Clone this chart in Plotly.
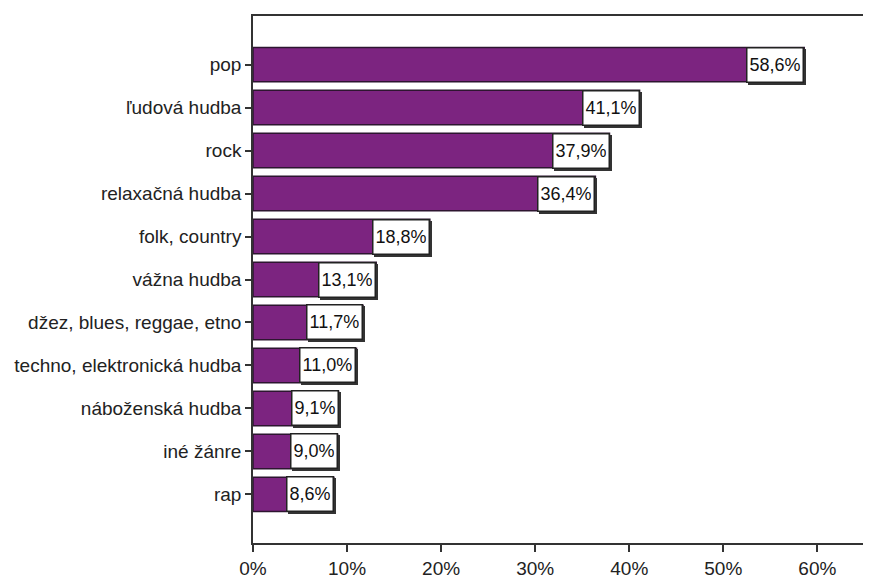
import plotly.graph_objects as go

categories = ["pop", "ľudová hudba", "rock", "relaxačná hudba", "folk, country",
              "vážna hudba", "džez, blues, reggae, etno", "techno, elektronická hudba",
              "náboženská hudba", "iné žánre", "rap"]
values = [58.6, 41.1, 37.9, 36.4, 18.8, 13.1, 11.7, 11.0, 9.1, 9.0, 8.6]
labels = ["58,6%", "41,1%", "37,9%", "36,4%", "18,8%", "13,1%", "11,7%",
          "11,0%", "9,1%", "9,0%", "8,6%"]
x_ticks = [0, 10, 20, 30, 40, 50, 60]
x_ticktext = ["0%", "10%", "20%", "30%", "40%", "50%", "60%"]

FONT = "Liberation Sans, Arial, sans-serif"

fig = go.Figure()
fig.add_trace(go.Bar(
    x=values, y=categories, orientation="h",
    marker=dict(color="#7c2480", line=dict(color="#2d1530", width=1.5)),
    width=0.8,
    hoverinfo="skip",
))

annotations = []
for cat, v, lab in zip(categories, values, labels):
    # shadow
    annotations.append(dict(
        x=v, y=cat, xref="x", yref="y", text=lab, showarrow=False,
        xanchor="right", yanchor="middle", xshift=2, yshift=-2,
        font=dict(family=FONT, size=18, color="#333333"),
        bgcolor="#333333", bordercolor="#333333", borderwidth=1.5,
        borderpad=2, height=29,
    ))
    annotations.append(dict(
        x=v, y=cat, xref="x", yref="y", text=lab, showarrow=False,
        xanchor="right", yanchor="middle",
        font=dict(family=FONT, size=18, color="#111111"),
        bgcolor="white", bordercolor="#222222", borderwidth=1.5,
        borderpad=2, height=29,
    ))

# page body has an 8px margin, so the figure is 8px smaller than the window
fig.update_layout(
    width=863, height=571,
    margin=dict(l=245, r=0, t=8, b=36),
    paper_bgcolor="white", plot_bgcolor="white",
    showlegend=False,
    annotations=annotations,
    font=dict(family=FONT, size=19, color="#222222"),
    bargap=0.2,
)
fig.update_xaxes(
    range=[0, 65.7], tickvals=x_ticks, ticktext=x_ticktext,
    showgrid=False, zeroline=False,
    showline=True, linecolor="#333333", linewidth=1.5, mirror=True,
    ticks="outside", ticklen=7, tickwidth=1.5, tickcolor="#333333",
    tickfont=dict(family=FONT, size=19, color="#222222"),
)
fig.update_yaxes(
    type="category", categoryorder="array", categoryarray=categories[::-1],
    range=[-1.13, 11.13],
    showgrid=False, zeroline=False,
    showline=True, linecolor="#333333", linewidth=1.5,
    ticks="outside", ticklen=6, tickwidth=1.5, tickcolor="#333333",
    tickfont=dict(family=FONT, size=19, color="#222222"),
)

fig.write_html("out.html")
